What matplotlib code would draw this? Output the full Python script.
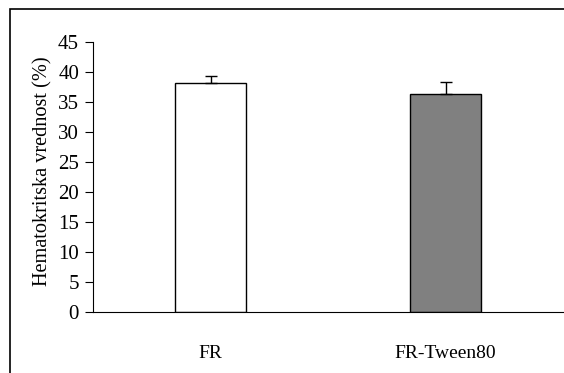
import matplotlib.pyplot as plt
from matplotlib.patches import Rectangle

# Donnees
groupes = ['FR', 'FR-Tween80']
moyennes = [38.1, 36.3]
ecarts = [1.2, 2.0]
couleurs = ['white', '#808080']

plt.rcParams['font.family'] = 'Liberation Serif'

fig = plt.figure(figsize=(5.64, 3.73), dpi=100)
ax = fig.add_axes([93 / 564, 1 - 312 / 373, 470 / 564, 270 / 373])

pos = [0.5, 1.5]
ax.bar(pos, moyennes, width=0.3, color=couleurs, edgecolor='black', linewidth=1.0,
       yerr=[[0, 0], ecarts], capsize=4, error_kw=dict(elinewidth=1.0, capthick=1.0, ecolor='black'))

ax.set_xlim(0, 2)
ax.set_ylim(0, 45)
ax.set_yticks(range(0, 46, 5))
ax.set_xticks(pos)
ax.set_xticklabels(groupes, fontsize=14)
ax.tick_params(axis='x', length=0, pad=24)
ax.tick_params(axis='y', labelsize=15, length=6, direction='out', pad=4)
ax.set_ylabel('Hematokritska vrednost (%)', fontsize=14.6, labelpad=4)
ax.yaxis.label.set_y(0.522)

ax.spines['top'].set_visible(False)
ax.spines['right'].set_visible(False)

# cadre exterieur (coupé à droite et en bas)
fig.patches.append(Rectangle((10 / 564, -0.1), 1.2, 1 - 9 / 373 + 0.1, transform=fig.transFigure,
                             fill=False, edgecolor='black', linewidth=1.2))

fig.savefig('out.png', dpi=100)
